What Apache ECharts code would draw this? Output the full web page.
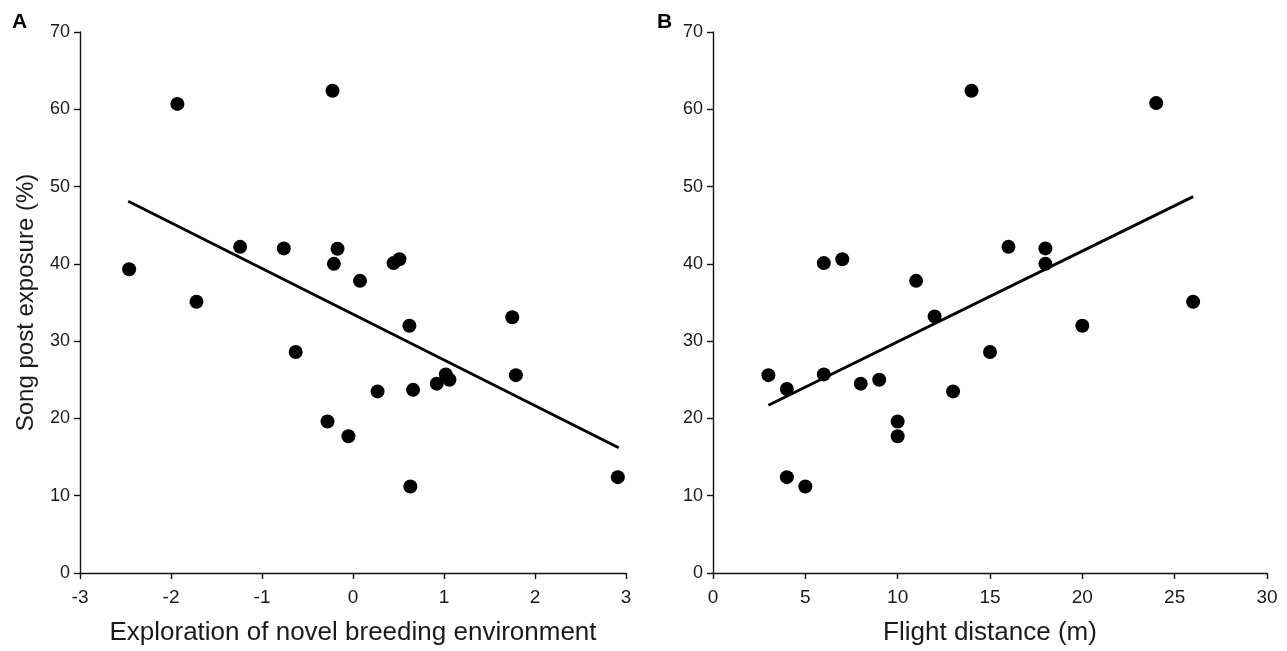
<!DOCTYPE html>
<html><head><meta charset="utf-8">
<script src="https://cdn.jsdelivr.net/npm/echarts@6/dist/echarts.min.js"></script>
<style>html,body{margin:0;padding:0;background:#fff}#c{width:1287px;height:651px}</style>
</head><body><div id="c"></div>
<script>
// Panel A: exploration score vs song post exposure (%)
const explorationX = [-2.46,-1.93,-0.225,-1.24,-0.76,-0.17,-0.21,0.446,0.51,0.077,-1.72,0.62,1.75,-0.63,1.02,1.06,0.92,0.66,0.27,1.79,-0.28,-0.05,0.63,2.91];
const exposureA    = [39.3,60.7,62.4,42.2,42.0,41.95,40.0,40.1,40.6,37.8,35.1,32.0,33.1,28.6,25.7,25.0,24.5,23.7,23.5,25.6,19.6,17.7,11.2,12.4];
const fitA_x = [-2.47, 2.92];
const fitA_y = [48.1, 16.2];
// Panel B: flight distance (m) vs song post exposure (%)
const flightX   = [14,24,6,7,16,18,18,11,26,12,20,3,4,6,8,9,13,15,10,10,4,5];
const exposureB = [62.4,60.8,40.1,40.6,42.2,42.0,40.0,37.8,35.1,33.2,32.0,25.6,23.8,25.7,24.5,25.0,23.5,28.6,19.6,17.7,12.4,11.2];
const fitB_x = [3.0, 26.0];
const fitB_y = [21.7, 48.7];

const FONT = 'Liberation Sans, Arial, sans-serif';
const TXT = '#1a1a1a';
function xAxis(gi, min, max, interval, name) {
  return {
    type: 'value', gridIndex: gi, min: min, max: max, interval: interval,
    name: name, nameLocation: 'middle', nameGap: 47,
    nameTextStyle: {fontFamily: FONT, fontSize: 26, color: TXT},
    axisLine: {show: true, onZero: false, lineStyle: {color: '#111', width: 1.4}},
    axisTick: {show: true, inside: false, length: 6, lineStyle: {color: '#111', width: 1.4}},
    axisLabel: {fontFamily: FONT, fontSize: 19, color: TXT, margin: 15},
    splitLine: {show: false}
  };
}
function yAxis(gi, name) {
  return {
    type: 'value', gridIndex: gi, min: 0, max: 70, interval: 10,
    name: name, nameLocation: 'middle', nameGap: 42,
    nameTextStyle: {fontFamily: FONT, fontSize: 24, color: TXT},
    axisLine: {show: true, onZero: false, lineStyle: {color: '#111', width: 1.4}},
    axisTick: {show: true, inside: false, length: 6, lineStyle: {color: '#111', width: 1.4}},
    axisLabel: {fontFamily: FONT, fontSize: 18, color: TXT, margin: 10},
    splitLine: {show: false}
  };
}
const chart = echarts.init(document.getElementById('c'), null, {renderer: 'canvas'});
chart.setOption({
  backgroundColor: '#fff',
  animation: false,
  title: [
    {text: 'A', left: 7, top: 7, textStyle: {fontFamily: FONT, fontSize: 21, fontWeight: 'bold', color: '#000'}},
    {text: 'B', left: 652, top: 7, textStyle: {fontFamily: FONT, fontSize: 21, fontWeight: 'bold', color: '#000'}}
  ],
  grid: [
    {left: 80, right: 661, top: 32, bottom: 76},
    {left: 713, right: 20, top: 32, bottom: 76}
  ],
  xAxis: [
    xAxis(0, -3, 3, 1, 'Exploration of novel breeding environment'),
    xAxis(1, 0, 30, 5, 'Flight distance (m)')
  ],
  yAxis: [
    yAxis(0, 'Song post exposure (%)'),
    yAxis(1, '')
  ],
  series: [
    {type: 'line', xAxisIndex: 0, yAxisIndex: 0, data: fitA_x.map((x,i)=>[x, fitA_y[i]]), symbol: 'none', lineStyle: {color: '#000', width: 2.8}, z: 2},
    {type: 'scatter', xAxisIndex: 0, yAxisIndex: 0, data: explorationX.map((x,i)=>[x, exposureA[i]]), symbol: 'circle', symbolSize: 14, itemStyle: {color: '#000', opacity: 1}, z: 3},
    {type: 'line', xAxisIndex: 1, yAxisIndex: 1, data: fitB_x.map((x,i)=>[x, fitB_y[i]]), symbol: 'none', lineStyle: {color: '#000', width: 2.8}, z: 2},
    {type: 'scatter', xAxisIndex: 1, yAxisIndex: 1, data: flightX.map((x,i)=>[x, exposureB[i]]), symbol: 'circle', symbolSize: 14, itemStyle: {color: '#000', opacity: 1}, z: 3}
  ]
});
</script></body></html>
